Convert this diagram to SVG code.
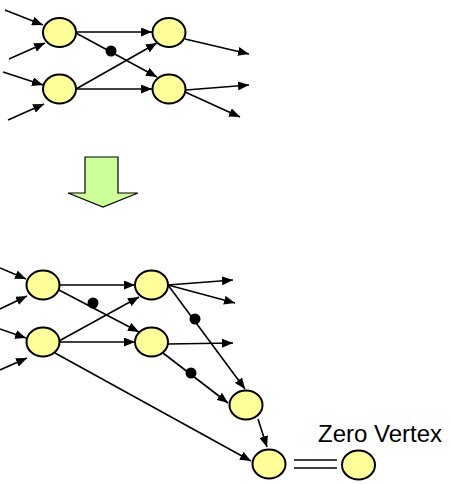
<svg xmlns="http://www.w3.org/2000/svg" width="451" height="484" viewBox="0 0 451 484">
<defs>
<marker id="ah" markerUnits="userSpaceOnUse" markerWidth="11" markerHeight="9" refX="11" refY="4.5" orient="auto">
<path d="M0,0 L11,4.5 L0,9 z" fill="#000"/>
</marker>
<style>
.n{fill:#FFFF99;stroke:#000;stroke-width:2}
.e{stroke:#000;stroke-width:1.6;fill:none;marker-end:url(#ah)}
.p{stroke:#000;stroke-width:1.6;fill:none}
.d{fill:#000}
.t{font-family:"Liberation Sans",Arial,sans-serif;font-size:24px;fill:#000}
</style>
</defs>
<rect width="451" height="484" fill="#fff"/>
<g id="connectors">
<line class="e" x1="5" y1="10" x2="43" y2="25"/>
<line class="e" x1="9" y1="59" x2="45" y2="43"/>
<line class="e" x1="3" y1="72" x2="43" y2="85"/>
<line class="e" x1="8" y1="120" x2="44" y2="104"/>
<line class="e" x1="76" y1="32" x2="152" y2="32"/>
<line class="e" x1="76" y1="33" x2="157" y2="77"/>
<line class="e" x1="76" y1="89" x2="157" y2="43"/>
<line class="e" x1="76" y1="89" x2="152" y2="89"/>
<line class="e" x1="185" y1="39" x2="249" y2="54"/>
<line class="e" x1="186" y1="90" x2="249" y2="85"/>
<line class="e" x1="185" y1="92" x2="240" y2="117"/>
<circle class="d" cx="111" cy="51" r="5.5"/>
<line class="e" x1="0" y1="268" x2="26" y2="279"/>
<line class="e" x1="0" y1="309" x2="27" y2="296"/>
<line class="e" x1="0" y1="329" x2="26" y2="338"/>
<line class="e" x1="0" y1="370" x2="27" y2="358"/>
<line class="e" x1="59" y1="285" x2="135" y2="285"/>
<line class="e" x1="59" y1="290" x2="139" y2="332"/>
<line class="e" x1="59" y1="341" x2="139" y2="297"/>
<line class="e" x1="59" y1="342" x2="135" y2="342"/>
<line class="e" x1="168" y1="285" x2="233" y2="280"/>
<line class="e" x1="168" y1="285" x2="235" y2="303"/>
<line class="e" x1="168" y1="285" x2="245" y2="389"/>
<line class="e" x1="168" y1="344" x2="233" y2="343"/>
<line class="e" x1="163" y1="353" x2="228" y2="403"/>
<line class="e" x1="55" y1="353" x2="251" y2="461"/>
<line class="e" x1="258" y1="419" x2="267" y2="447"/>
<circle class="d" cx="93" cy="303" r="5.5"/>
<circle class="d" cx="195" cy="319" r="5.5"/>
<circle class="d" cx="191" cy="373" r="5.5"/>
<line class="p" x1="294" y1="460" x2="337" y2="460"/>
<line class="p" x1="294" y1="468" x2="337" y2="468"/>
</g>
<g id="transform-arrow">
<polygon points="85,157 118,157 118,193 138,193 103,207 68,193 85,193" fill="#CCFF99" stroke="#000" stroke-width="1.2"/>
</g>
<g id="nodes">
<g id="A"><ellipse class="n" cx="59.5" cy="32.5" rx="16.5" ry="14.5"/></g>
<g id="B"><ellipse class="n" cx="59.5" cy="89" rx="16.5" ry="14.5"/></g>
<g id="C"><ellipse class="n" cx="169" cy="32.5" rx="16.5" ry="14.5"/></g>
<g id="D"><ellipse class="n" cx="169" cy="89" rx="16.5" ry="14.5"/></g>
<g id="E"><ellipse class="n" cx="43" cy="285" rx="16.5" ry="14.5"/></g>
<g id="F"><ellipse class="n" cx="43" cy="342" rx="16.5" ry="14.5"/></g>
<g id="G"><ellipse class="n" cx="151.5" cy="285" rx="16.5" ry="14.5"/></g>
<g id="H"><ellipse class="n" cx="151.5" cy="342" rx="16.5" ry="14.5"/></g>
<g id="I"><ellipse class="n" cx="246" cy="405" rx="16.5" ry="14.5"/></g>
<g id="J"><ellipse class="n" cx="269" cy="464" rx="16.5" ry="14.5"/></g>
<g id="K"><ellipse class="n" cx="358.5" cy="465" rx="16.5" ry="14.5"/></g>
</g>
<text class="t" x="318" y="442">Zero Vertex</text>
</svg>
